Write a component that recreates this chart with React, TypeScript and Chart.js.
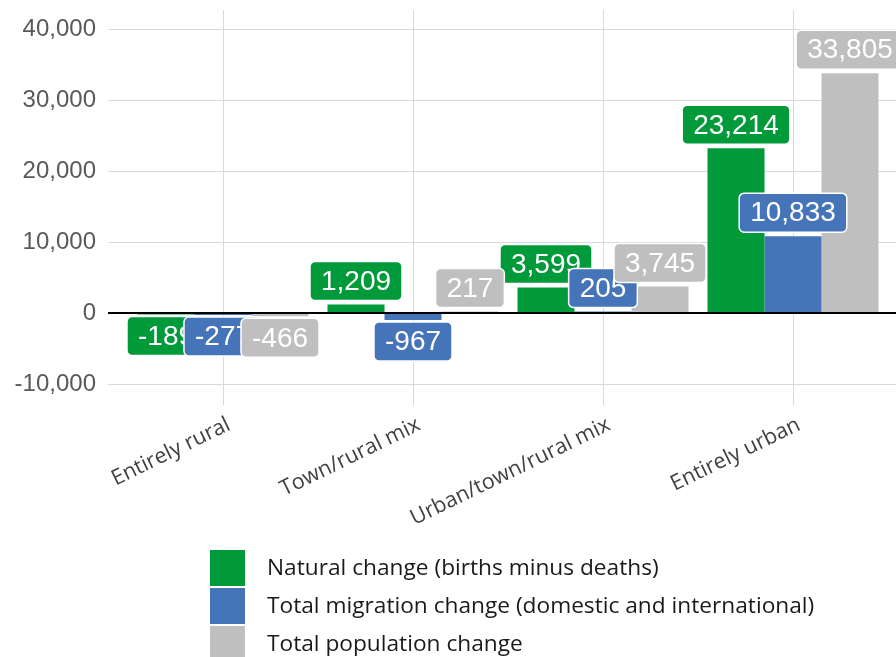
import React, { useEffect, useRef } from 'react';
import { Chart, registerables } from 'chart.js';

Chart.register(...registerables);

const categories = ['Entirely rural', 'Town/rural mix', 'Urban/town/rural mix', 'Entirely urban'];
const seriesNames = [
  'Natural change (births minus deaths)',
  'Total migration change (domestic and international)',
  'Total population change',
];
const naturalChange = [-189, 1209, 3599, 23214];
const migrationChange = [-277, -967, 205, 10833];
const totalChange = [-466, 217, 3745, 33805];
const yTickValues = [-10000, 0, 10000, 20000, 30000, 40000];
const seriesColors = ['#019a3a', '#4674b8', '#bfbfbf'];

const fmt = (v: number) => v.toLocaleString('en-US');

const gridExtendPlugin = {
  id: 'gridExtend',
  beforeDatasetsDraw(chart: any) {
    const ctx = chart.ctx;
    const area = chart.chartArea;
    const ys = chart.scales.y;
    ctx.save();
    ctx.lineWidth = 1;
    ctx.strokeStyle = '#d9d9d9';
    yTickValues.forEach((v) => {
      if (v === 0) return;
      const py = Math.round(ys.getPixelForValue(v)) + 0.5;
      ctx.beginPath();
      ctx.moveTo(area.right, py);
      ctx.lineTo(chart.width, py);
      ctx.stroke();
    });
    ctx.restore();
  },
};

const barLabelPlugin = {
  id: 'barLabels',
  afterDatasetsDraw(chart: any) {
    const ctx = chart.ctx;
    const area = chart.chartArea;
    const y0 = chart.scales.y.getPixelForValue(0);
    ctx.save();
    ctx.beginPath();
    ctx.strokeStyle = '#000';
    ctx.lineWidth = 2;
    ctx.moveTo(area.left - 20, y0);
    ctx.lineTo(chart.width, y0);
    ctx.stroke();

    ctx.font = '28px "Liberation Sans", Arial, sans-serif';
    ctx.textAlign = 'center';
    ctx.textBaseline = 'middle';
    chart.data.datasets.forEach((ds: any, di: number) => {
      const meta = chart.getDatasetMeta(di);
      meta.data.forEach((el: any, i: number) => {
        const v = ds.data[i] as number;
        const text = fmt(v);
        const w = ctx.measureText(text).width + 22;
        const h = 39;
        const x = el.x - w / 2;
        const y = v >= 0 ? el.y - 4 - h : el.y + 2;
        ctx.beginPath();
        ctx.roundRect(x, y, w, h, 5);
        ctx.fillStyle = ds.backgroundColor;
        ctx.fill();
        ctx.lineWidth = 1.5;
        ctx.strokeStyle = '#ffffff';
        ctx.stroke();
        ctx.fillStyle = '#ffffff';
        ctx.fillText(text, el.x, y + h / 2 + 1);
      });
    });
    ctx.restore();
  },
};

const legendPlugin = {
  id: 'stackedLegend',
  afterDraw(chart: any) {
    const ctx = chart.ctx;
    ctx.save();
    ctx.font = '22.7px "Open Sans", Lato, sans-serif';
    ctx.textAlign = 'left';
    ctx.textBaseline = 'middle';
    chart.data.datasets.forEach((ds: any, i: number) => {
      const top = 550 + i * 38;
      ctx.fillStyle = ds.backgroundColor;
      ctx.fillRect(210, top, 35, 36);
      ctx.fillStyle = '#1a1a1a';
      ctx.fillText(ds.label, 267, top + 19);
    });
    ctx.restore();
  },
};

export default function App() {
  const canvasRef = useRef<HTMLCanvasElement | null>(null);

  useEffect(() => {
    if (!canvasRef.current) return;
    const seriesValues = [naturalChange, migrationChange, totalChange];
    const chart = new Chart(canvasRef.current, {
      type: 'bar',
      data: {
        labels: categories,
        datasets: seriesNames.map((name, i) => ({
          label: name,
          data: seriesValues[i],
          backgroundColor: seriesColors[i],
          borderWidth: 0,
          categoryPercentage: 0.9,
          barPercentage: 1.0,
        })),
      },
      options: {
        animation: false,
        responsive: true,
        maintainAspectRatio: false,
        layout: { padding: { top: 10, right: 8, bottom: 117, left: 0 } },
        plugins: {
          legend: { display: false },
          tooltip: { enabled: false },
        },
        scales: {
          x: {
            type: 'category',
            offset: true,
            border: { display: false },
            grid: {
              offset: false,
              color: '#d9d9d9',
              lineWidth: 1,
              tickLength: 5,
            },
            ticks: {
              autoSkip: false,
              minRotation: 26,
              maxRotation: 26,
              labelOffset: 6,
              padding: 7,
              color: '#404040',
              font: { family: '"Open Sans", Lato, sans-serif', size: 21.5 },
            },
            afterFit: (scale: any) => {
              scale.height = 140;
              scale.paddingLeft = 0;
              scale.paddingRight = 0;
            },
          },
          y: {
            min: -12250,
            max: 42700,
            border: { display: false },
            afterBuildTicks: (scale: any) => {
              scale.ticks = yTickValues.map((v) => ({ value: v }));
            },
            afterFit: (scale: any) => {
              scale.width = 128;
              scale.paddingTop = 0;
              scale.paddingBottom = 0;
            },
            grid: {
              color: (c: any) => (c.tick && c.tick.value === 0 ? '#000000' : '#d9d9d9'),
              lineWidth: (c: any) => (c.tick && c.tick.value === 0 ? 2 : 1),
              tickLength: 20,
            },
            ticks: {
              padding: 12,
              color: '#595959',
              font: { family: '"Liberation Sans", Arial, sans-serif', size: 24 },
              callback: (v: any) => fmt(Number(v)),
            },
          },
        },
      },
      plugins: [gridExtendPlugin, barLabelPlugin, legendPlugin],
    });
    return () => chart.destroy();
  }, []);

  return (
    <div style={{ position: 'fixed', left: 0, top: 0, width: 896, height: 657, background: '#fff' }}>
      <canvas ref={canvasRef} />
    </div>
  );
}
